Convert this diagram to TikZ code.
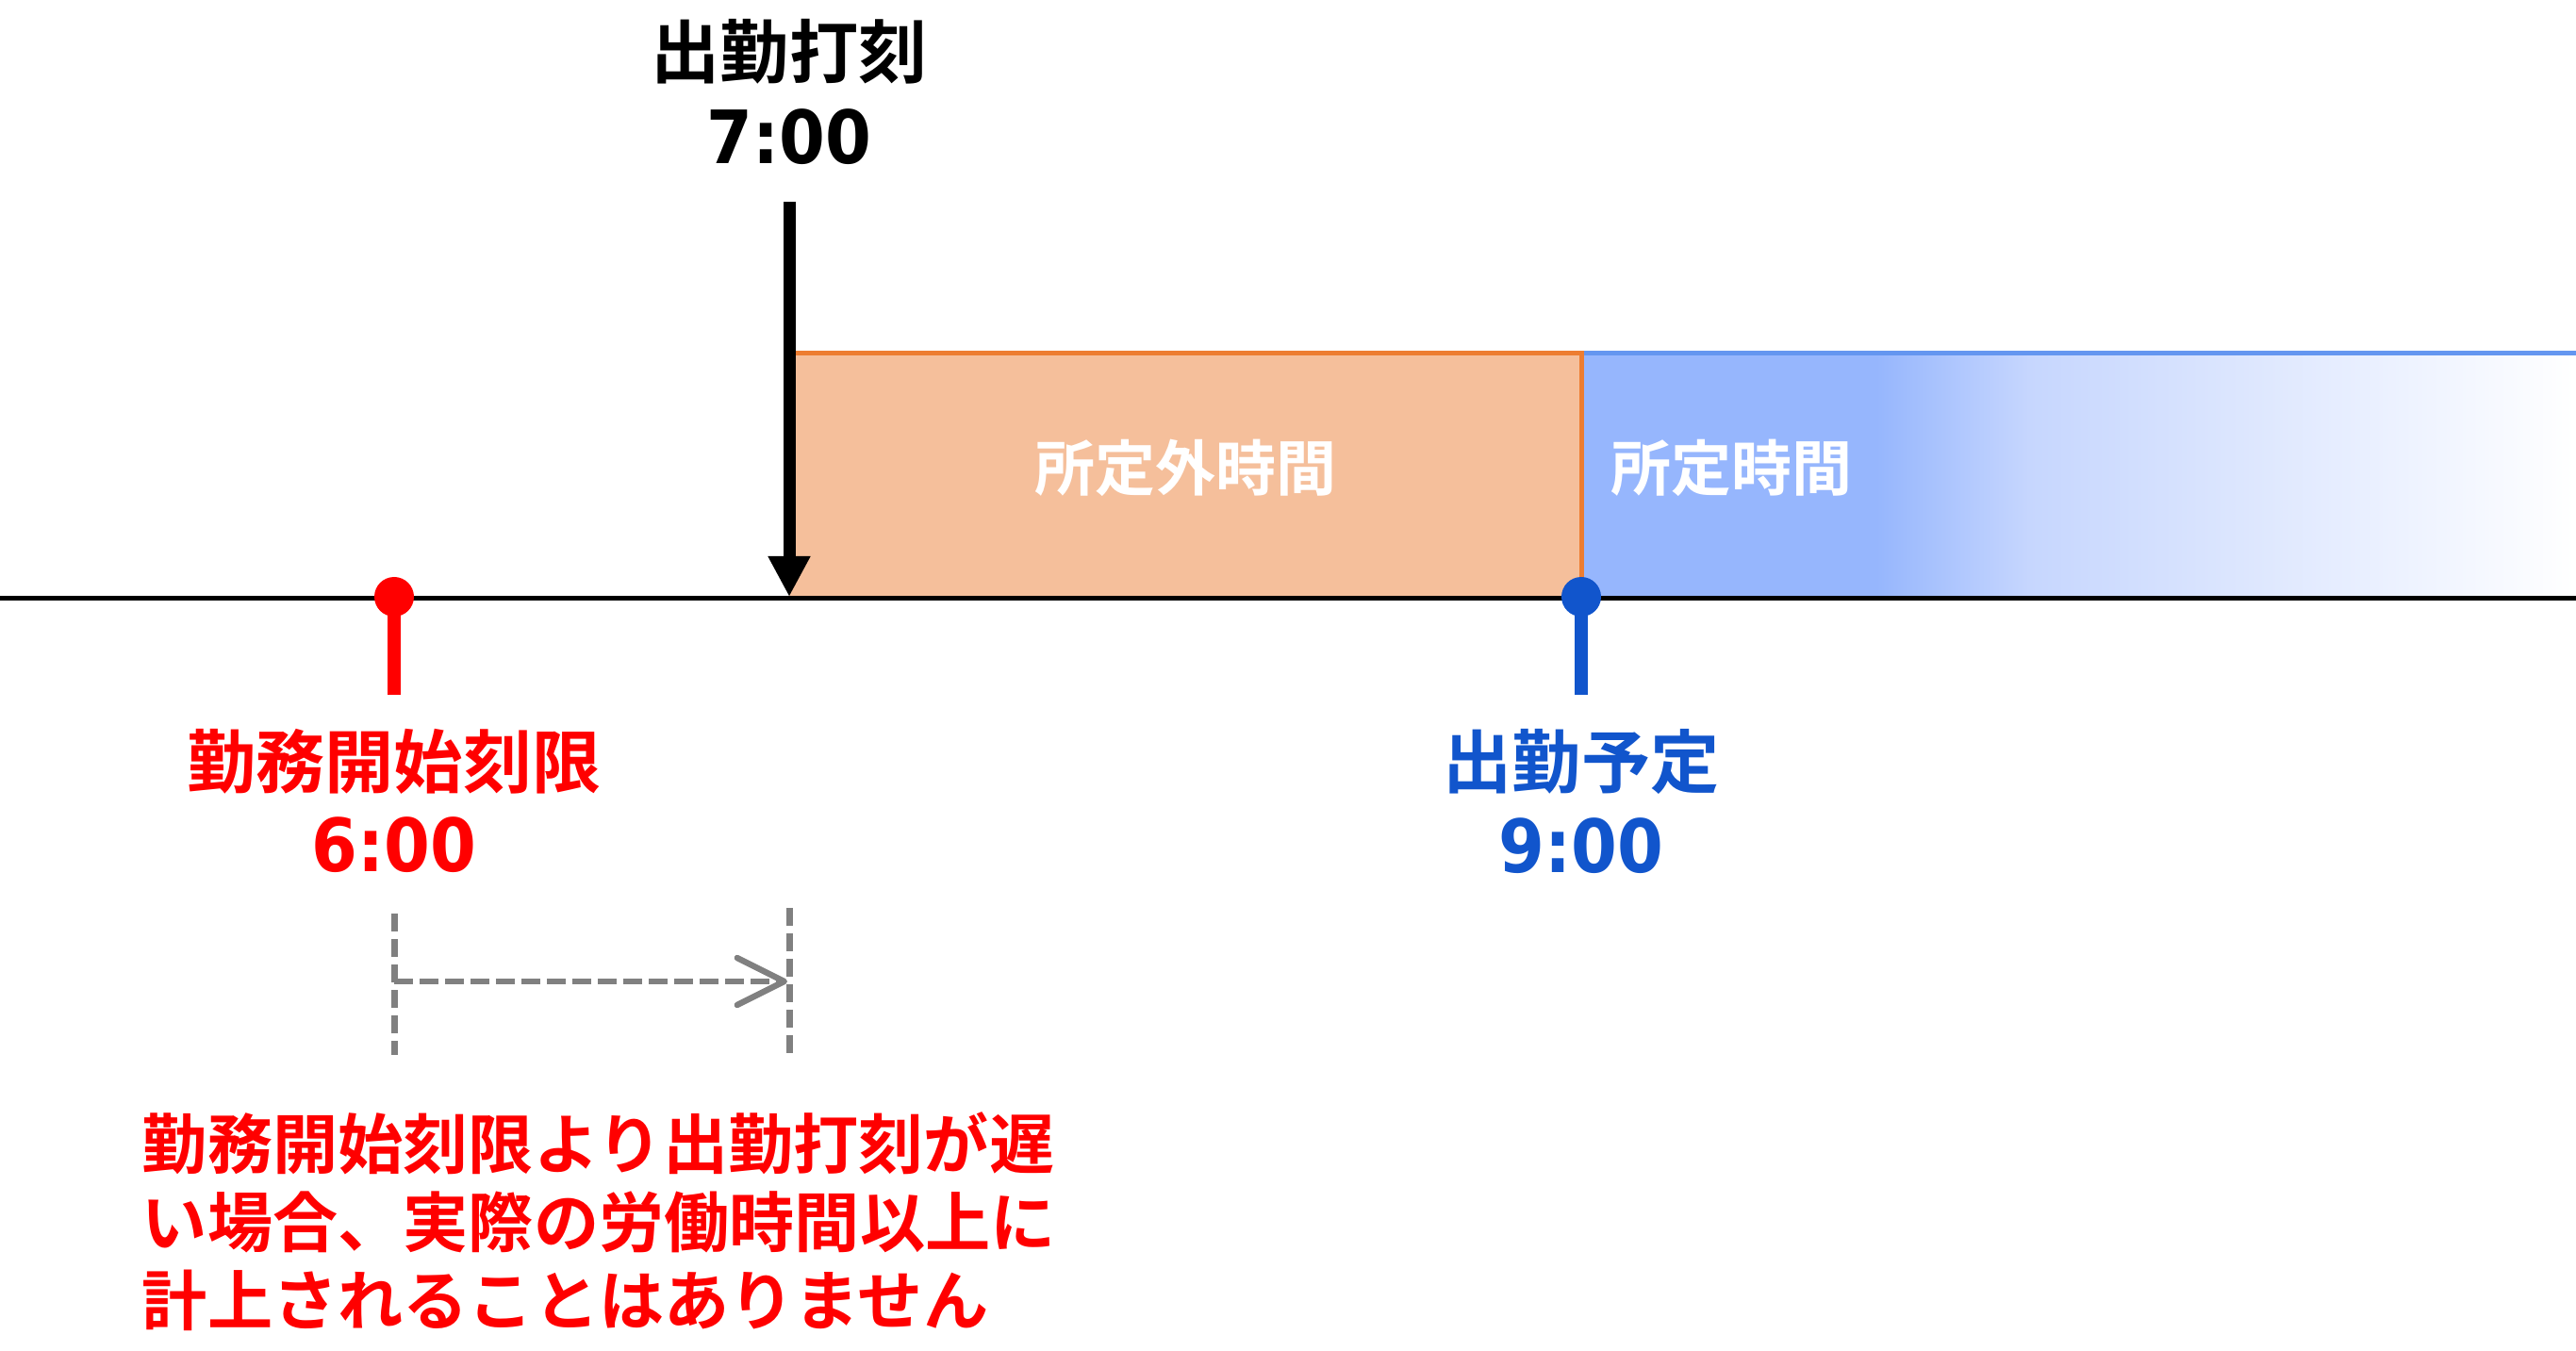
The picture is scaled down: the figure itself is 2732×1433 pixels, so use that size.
\documentclass[tikz,border=0pt]{standalone}
\usepackage{fontspec}
\newfontfamily\jpfont{Noto Sans CJK JP Bold}
\newfontfamily\numfont{DejaVu Sans Bold}[FakeStretch=0.9]
\usetikzlibrary{arrows.meta}
\definecolor{limitred}{RGB}{255,0,0}
\definecolor{planblue}{RGB}{17,85,204}
\definecolor{extrafill}{RGB}{245,191,155}
\definecolor{extraedge}{RGB}{237,125,49}
\definecolor{basefill}{RGB}{150,182,253}
\definecolor{basemid}{RGB}{198,214,254}
\definecolor{baseedge}{RGB}{100,150,240}
\definecolor{guidegray}{RGB}{128,128,128}
\begin{document}
\begin{tikzpicture}[x=0.25pt, y=-0.25pt,
	lbl/.style={font=\jpfont\fontsize{18.3pt}{18.3pt}\selectfont, inner sep=0pt},
	num/.style={font=\numfont\fontsize{19.5pt}{19.5pt}\selectfont, inner sep=0pt},
	boxlbl/.style={font=\jpfont\fontsize{16pt}{16pt}\selectfont, text=white, inner sep=0pt},
	tickdot/.style={circle, fill=#1, inner sep=0pt, minimum size=10.5pt},
	guide/.style={draw=guidegray, line width=1.75pt, dash pattern=on 4.75pt off 2pt}]
	\useasboundingbox (0,0) rectangle (2732,1433);
	% 所定外時間 / 所定時間
	\fill[extrafill] (837,375) rectangle (1677,635);
	\fill[basefill] (1677,375) rectangle (1992,635);
	\shade[left color=basefill, right color=basemid] (1990,375) rectangle (2152,635);
	\shade[left color=basemid, right color=white] (2150,375) rectangle (2732,635);
	\draw[baseedge, line width=1.25pt] (1677,375) -- (2732,375);
	\draw[extraedge, line width=1.25pt] (837,375) -- (1677,375) -- (1677,635);
	\node[boxlbl] (extra) at (1257,496) {所定外時間};
	\node[boxlbl, anchor=west] (base) at (1708,496) {所定時間};
	% 時間軸
	\coordinate (axisL) at (0,635);
	\coordinate (axisR) at (2732,635);
	\draw[line width=1.25pt] (axisL) -- (axisR);
	% 出勤打刻
	\node[lbl] (punchname) at (837,55) {出勤打刻};
	\node[num] (punchtime) at (837,145) {7:00};
	\coordinate (punchtop) at (837,214);
	\coordinate (punch) at (837,633);
	\draw[line width=3.25pt, -{Triangle[length=10.75pt, width=10.5pt]}] (punchtop) -- (punch);
	% 勤務開始刻限
	\coordinate (limitend) at (418,737);
	\node[tickdot=limitred] (limitdot) at (418,633) {};
	\draw[limitred, line width=3.5pt] (limitdot.center) -- (limitend);
	\node[lbl, text=limitred] (limitname) at (418,808) {勤務開始刻限};
	\node[num, text=limitred] (limittime) at (418,896) {6:00};
	% 出勤予定
	\coordinate (planend) at (1677,737);
	\node[tickdot=planblue] (plandot) at (1677,633) {};
	\draw[planblue, line width=3.5pt] (plandot.center) -- (planend);
	\node[lbl, text=planblue] (planname) at (1677,808) {出勤予定};
	\node[num, text=planblue] (plantime) at (1677,897) {9:00};
	% 差
	\coordinate (gapLtop) at (418,969);
	\coordinate (gapLbot) at (418,1119);
	\coordinate (gapRtop) at (837,963);
	\coordinate (gapRbot) at (837,1119);
	\coordinate (gapL) at (418,1041);
	\coordinate (gapR) at (835,1041);
	\draw[guide] (gapLtop) -- (gapLbot);
	\draw[guide] (gapRtop) -- (gapRbot);
	\draw[guide, line width=1.6pt, dash pattern=on 5pt off 1.75pt, -{Straight Barb[length=12.5pt, width=12.5pt, round]}] (gapL) -- (gapR);
	\node[anchor=north west, align=left, inner sep=0pt, text=limitred, font=\jpfont\fontsize{17.3pt}{20.75pt}\selectfont] (note) at (150,1179) {勤務開始刻限より出勤打刻が遅\\い場合、実際の労働時間以上に\\計上されることはありません};
\end{tikzpicture}
\end{document}
